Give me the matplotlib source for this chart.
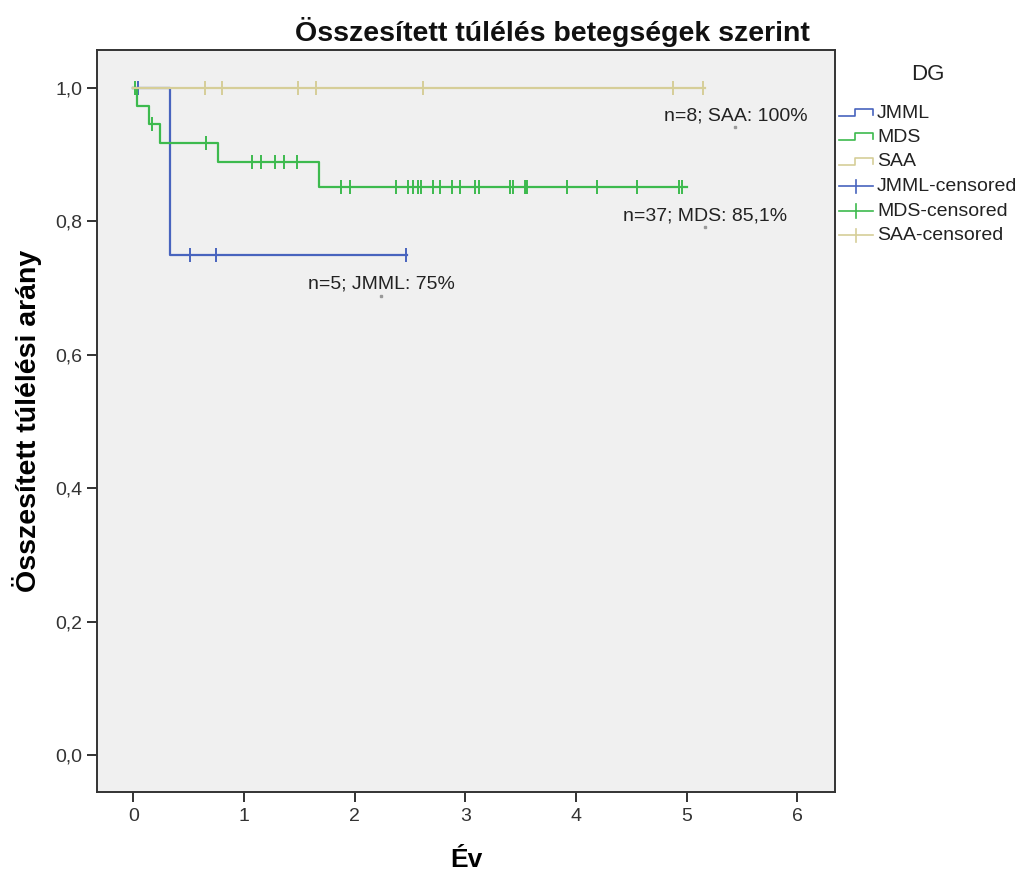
import numpy as np
import matplotlib.pyplot as plt
from matplotlib.lines import Line2D

# Kaplan-Meier lepcsők (idő, túlélési arány)
groups = ['JMML', 'MDS', 'SAA']
colors = ['#4864BE', '#3DBA4E', '#D6CE98']

jmml_t = [0.0, 0.335, 2.47]
jmml_s = [1.0, 0.75, 0.75]
jmml_cens = [0.04, 0.516, 0.748, 2.46]

mds_t = [0.0, 0.036, 0.14, 0.245, 0.763, 1.677, 5.0]
mds_s = [1.0, 0.973, 0.946, 0.918, 0.889, 0.851, 0.851]
mds_cens = [0.02, 0.166, 0.66, 1.077, 1.152, 1.285, 1.36, 1.475,
            1.88, 1.955, 2.377, 2.483, 2.528, 2.573, 2.60, 2.71, 2.77,
            2.88, 2.95, 3.09, 3.12, 3.40, 3.43, 3.54, 3.55, 3.56,
            3.92, 4.19, 4.55, 4.93, 4.955]

saa_t = [0.0, 5.17]
saa_s = [1.0, 1.0]
saa_cens = [0.65, 0.80, 1.49, 1.65, 2.62, 4.88, 5.145]

times = [jmml_t, mds_t, saa_t]
surv = [jmml_s, mds_s, saa_s]
cens = [jmml_cens, mds_cens, saa_cens]

labels = ['n=5; JMML: 75%', 'n=37; MDS: 85,1%', 'n=8; SAA: 100%']
label_x = [2.24, 5.17, 5.44]
label_y = [0.688, 0.791, 0.941]

fig = plt.figure(figsize=(10.2, 8.71), dpi=100)
ax = fig.add_axes([0.0954, 0.0904, 0.7232, 0.8522])
ax.set_facecolor('#F0F0F0')

# rajzolási sorrend: SAA alul, JMML, MDS felül
for i in [2, 0, 1]:
    t = np.array(times[i])
    s = np.array(surv[i])
    ax.step(t, s, where='post', color=colors[i], lw=1.6, zorder=2 + i)
    c = np.array(cens[i])
    cs = np.array([s[np.searchsorted(t, x, side='right') - 1] for x in c])
    ax.plot(c, cs, ls='none', marker='|', ms=10, mew=1.4, color=colors[i], zorder=2 + i)

for lab, x, y in zip(labels, label_x, label_y):
    ax.plot([x], [y], 's', ms=1.5, color='#999999', zorder=5)
    ax.text(x, y + 0.005, lab, ha='center', va='bottom', fontsize=14,
            family='Liberation Sans', color='#222222')

ax.set_xlim(-0.325, 6.34)
ax.set_ylim(-0.0555, 1.057)
ax.set_xticks(range(0, 7))
ax.set_yticks([0.0, 0.2, 0.4, 0.6, 0.8, 1.0])
ax.set_yticklabels(['0,0', '0,2', '0,4', '0,6', '0,8', '1,0'])
ax.tick_params(direction='out', length=7, width=1.3, colors='#222222',
               labelsize=14, pad=4)
for lab in ax.get_xticklabels() + ax.get_yticklabels():
    lab.set_family(['Liberation Sans Narrow', 'Liberation Sans'])
    lab.set_color('#333333')
for sp in ax.spines.values():
    sp.set_color('#333333')
    sp.set_linewidth(1.4)

ax.set_xlabel('Év', fontsize=19, fontweight='bold',
              family=['Liberation Sans Narrow', 'Liberation Sans'], labelpad=17)
ax.set_ylabel('Összesített túlélési arány', fontsize=20.5, fontweight='bold',
              family=['Liberation Sans Narrow', 'Liberation Sans'], labelpad=9)

fig.text(0.542, 0.963, 'Összesített túlélés betegségek szerint', ha='center', va='center',
         fontsize=20.5, fontweight='bold', family='Liberation Sans', color='#111111')

# jelmagyarázat kézzel, az SPSS stílusában
W, H = 1020.0, 871.0
fig.text(928 / W, 1 - 75 / H, 'DG', ha='center', va='center', fontsize=16,
         family='Liberation Sans', color='#222222')
row_y = [113, 137.5, 162, 186.5, 211, 235.5]
leg_names = groups + [g + '-censored' for g in groups]
for k, name in enumerate(leg_names):
    y = 1 - row_y[k] / H
    col = colors[k % 3]
    if k < 3:
        xs = np.array([839, 855, 855, 873, 873]) / W
        ys = y + np.array([-3, -3, 4, 4, -2]) / H
        fig.add_artist(Line2D(xs, ys, color=col, lw=1.2))
    else:
        fig.add_artist(Line2D([839 / W, 873 / W], [y, y], color=col, lw=1.2))
        fig.add_artist(Line2D([856 / W, 856 / W], [y - 7 / H, y + 7 / H], color=col, lw=1.2))
    fig.text(877 / W, y, name, ha='left', va='center', fontsize=14,
             family='Liberation Sans', color='#222222')

plt.savefig('out.png', dpi=100)
